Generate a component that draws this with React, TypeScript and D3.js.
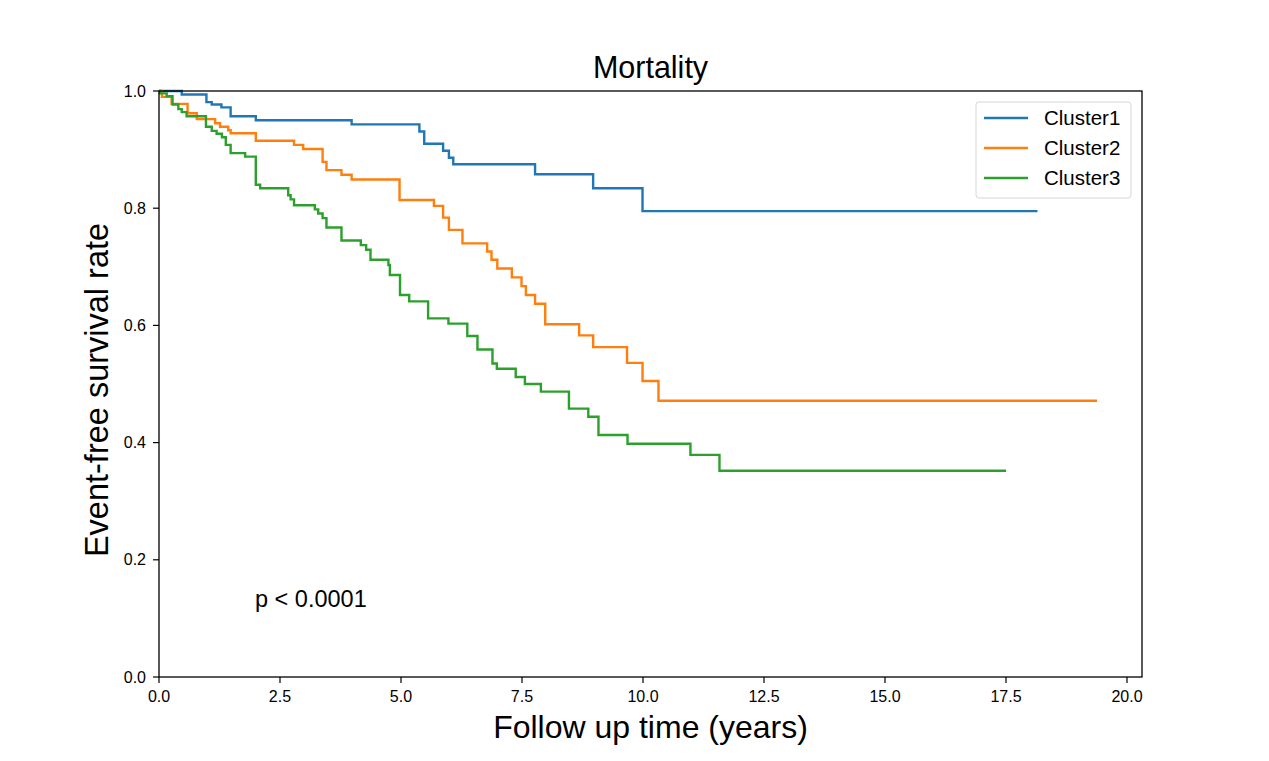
import React from "react";
import * as d3 from "d3";

// Kaplan-Meier steps (years, survival)
const cluster1Times = [0, 0.47, 0.98, 1.09, 1.29, 1.48, 2.0, 3.98, 5.38, 5.48, 5.87, 5.99, 6.08, 7.77, 8.97, 9.99, 18.15];
const cluster1Surv = [1.0, 0.994, 0.981, 0.977, 0.972, 0.957, 0.95, 0.943, 0.931, 0.91, 0.898, 0.886, 0.875, 0.858, 0.834, 0.795, 0.795];

const cluster2Times = [0, 0.06, 0.26, 0.59, 0.78, 1.16, 1.26, 1.43, 1.48, 2.0, 2.79, 2.98, 3.38, 3.46, 3.77, 3.98, 4.97, 5.68, 5.87, 5.99, 6.27, 6.78, 6.87, 6.99, 7.29, 7.49, 7.58, 7.77, 7.98, 8.68, 8.97, 9.67, 9.99, 10.32, 19.38];
const cluster2Surv = [1.0, 0.99, 0.978, 0.962, 0.952, 0.945, 0.939, 0.933, 0.928, 0.915, 0.908, 0.901, 0.879, 0.865, 0.857, 0.849, 0.814, 0.804, 0.784, 0.763, 0.74, 0.726, 0.712, 0.697, 0.682, 0.667, 0.652, 0.637, 0.602, 0.583, 0.563, 0.536, 0.505, 0.4715, 0.4715];

const cluster3Times = [0, 0.02, 0.16, 0.28, 0.4, 0.47, 0.57, 0.97, 1.09, 1.19, 1.3, 1.38, 1.48, 1.78, 2.0, 2.09, 2.67, 2.72, 2.79, 3.22, 3.29, 3.38, 3.46, 3.77, 4.17, 4.28, 4.37, 4.74, 4.77, 4.98, 5.17, 5.56, 5.98, 6.37, 6.58, 6.89, 6.98, 7.37, 7.56, 7.89, 8.47, 8.87, 9.08, 9.68, 10.98, 11.58, 17.5];
const cluster3Surv = [1.0, 0.996, 0.991, 0.977, 0.969, 0.964, 0.957, 0.939, 0.932, 0.927, 0.921, 0.908, 0.894, 0.888, 0.84, 0.834, 0.822, 0.815, 0.805, 0.798, 0.791, 0.783, 0.767, 0.745, 0.737, 0.729, 0.712, 0.703, 0.686, 0.652, 0.641, 0.612, 0.603, 0.582, 0.559, 0.535, 0.526, 0.512, 0.5, 0.487, 0.458, 0.444, 0.413, 0.398, 0.379, 0.352, 0.352];

const seriesNames = ["Cluster1", "Cluster2", "Cluster3"];
const seriesColors = ["#1f77b4", "#ff7f0e", "#2ca02c"];
const xTicks = [0, 2.5, 5, 7.5, 10, 12.5, 15, 17.5, 20];
const yTicks = [0, 0.2, 0.4, 0.6, 0.8, 1.0];

const W = 1269;
const H = 761;
const margin = { top: 91, right: 127, bottom: 84, left: 159 };
const FONT = "'Liberation Sans', Arial, Helvetica, sans-serif";

type Pt = { t: number; s: number };

const App: React.FC = () => {
  const innerW = W - margin.left - margin.right;
  const innerH = H - margin.top - margin.bottom;

  const x = d3.scaleLinear().domain([0, 20.31]).range([0, innerW]);
  const y = d3.scaleLinear().domain([0, 1]).range([innerH, 0]);

  const series: Pt[][] = [
    cluster1Times.map((t, i) => ({ t, s: cluster1Surv[i] })),
    cluster2Times.map((t, i) => ({ t, s: cluster2Surv[i] })),
    cluster3Times.map((t, i) => ({ t, s: cluster3Surv[i] })),
  ];

  const line = d3
    .line<Pt>()
    .x((d) => x(d.t))
    .y((d) => y(d.s))
    .curve(d3.curveStepAfter);

  const legendX = 976 - margin.left;
  const legendY = 102 - margin.top;

  return (
    <svg
      width={W}
      height={H}
      style={{ position: "absolute", left: 0, top: 0, background: "#fff" }}
      fontFamily={FONT}
    >
      <rect width={W} height={H} fill="#fff" />
      <text x={margin.left + innerW / 2} y={78} textAnchor="middle" fontSize={30.5} fill="#000">
        Mortality
      </text>
      <g transform={`translate(${margin.left},${margin.top})`}>
        {series.map((d, i) => (
          <path key={i} d={line(d) ?? ""} fill="none" stroke={seriesColors[i]} strokeWidth={2.4} />
        ))}

        <rect x={0} y={0} width={innerW} height={innerH} fill="none" stroke="#000" strokeWidth={1.3} />

        {xTicks.map((t) => (
          <g key={t} transform={`translate(${x(t)},${innerH})`}>
            <line y2={6} stroke="#000" strokeWidth={1.2} />
            <text y={25} textAnchor="middle" fontSize={16} fill="#000">
              {t.toFixed(1)}
            </text>
          </g>
        ))}
        {yTicks.map((t) => (
          <g key={t} transform={`translate(0,${y(t)})`}>
            <line x2={-6} stroke="#000" strokeWidth={1.2} />
            <text x={-13} dy="0.35em" textAnchor="end" fontSize={16} fill="#000">
              {t.toFixed(1)}
            </text>
          </g>
        ))}

        <text x={96} y={516} fontSize={23.5} fill="#000">
          p &lt; 0.0001
        </text>

        <g transform={`translate(${legendX},${legendY})`}>
          <rect width={155} height={96} rx={3} fill="#fff" fillOpacity={0.8} stroke="#d6d6d6" strokeWidth={1} />
          {seriesNames.map((n, i) => (
            <g key={n} transform={`translate(0,${16 + i * 30})`}>
              <line x1={8} x2={52} stroke={seriesColors[i]} strokeWidth={2.4} />
              <text x={68} dy="0.36em" fontSize={20.5} fill="#000">
                {n}
              </text>
            </g>
          ))}
        </g>
      </g>

      <text x={margin.left + innerW / 2} y={738} textAnchor="middle" fontSize={32} fill="#000">
        Follow up time (years)
      </text>
      <text
        transform={`translate(108,390) rotate(-90)`}
        textAnchor="middle"
        fontSize={32.5}
        fill="#000"
      >
        Event-free survival rate
      </text>
    </svg>
  );
};

export default App;
